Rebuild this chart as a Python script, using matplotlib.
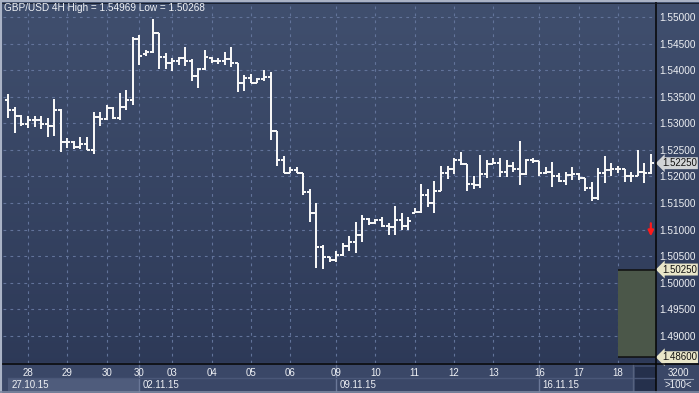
import matplotlib
matplotlib.use('Agg')
import matplotlib.pyplot as plt
import numpy as np
from matplotlib.collections import LineCollection
from matplotlib.patches import Rectangle
from matplotlib.lines import Line2D

plt.rcParams['lines.scale_dashes'] = False
FONT = ['Liberation Sans', 'DejaVu Sans']

# ---------------- data (GBP/USD 4H OHLC) ----------------
opens = [1.5344, 1.5326, 1.5313, 1.5299, 1.5306, 1.5306, 1.5298, 1.5295, 1.5326, 1.5264,
         1.5264, 1.5255, 1.5261, 1.5250, 1.5311, 1.5308, 1.5328, 1.5310, 1.5330, 1.5343,
         1.5458, 1.5430, 1.5435, 1.5469, 1.5425, 1.5413, 1.5417, 1.5423, 1.5417, 1.5389,
         1.5402, 1.5423, 1.5417, 1.5417, 1.5421, 1.5414, 1.5376, 1.5385, 1.5376, 1.5383,
         1.5388, 1.5286, 1.5231, 1.5207, 1.5212, 1.5207, 1.5170, 1.5131, 1.5068, 1.5049,
         1.5043, 1.5052, 1.5069, 1.5076, 1.5090, 1.5120, 1.5112, 1.5118, 1.5106, 1.5105,
         1.5118, 1.5106, 1.5132, 1.5134, 1.5165, 1.5151, 1.5173, 1.5207, 1.5214, 1.5231,
         1.5224, 1.5186, 1.5184, 1.5205, 1.5224, 1.5226, 1.5209, 1.5220, 1.5214, 1.5205,
         1.5231, 1.5230, 1.5207, 1.5209, 1.5200, 1.5192, 1.5203, 1.5205, 1.5197, 1.5178,
         1.5159, 1.5207, 1.5212, 1.5214, 1.5214, 1.5200, 1.5201, 1.5209, 1.5206]
highs = [1.5355, 1.5331, 1.5316, 1.5314, 1.5313, 1.5314, 1.5310, 1.5345, 1.5327, 1.5272,
         1.5266, 1.5274, 1.5275, 1.5322, 1.5322, 1.5335, 1.5330, 1.5357, 1.5363, 1.5463,
         1.5466, 1.5438, 1.54969, 1.5470, 1.5433, 1.5423, 1.5425, 1.5444, 1.5421, 1.5404,
         1.5438, 1.5425, 1.5423, 1.5434, 1.5444, 1.5414, 1.5391, 1.5393, 1.5385, 1.5400,
         1.5397, 1.5286, 1.5239, 1.5217, 1.5217, 1.5207, 1.5176, 1.5150, 1.5071, 1.5049,
         1.5059, 1.5075, 1.5088, 1.5115, 1.5128, 1.5122, 1.5120, 1.5123, 1.5113, 1.5145,
         1.5131, 1.5123, 1.5140, 1.5186, 1.5176, 1.5192, 1.5220, 1.5219, 1.5234, 1.5246,
         1.5224, 1.5201, 1.5241, 1.5231, 1.5234, 1.5235, 1.5231, 1.5228, 1.5266, 1.5232,
         1.5234, 1.5230, 1.5217, 1.5227, 1.5207, 1.5209, 1.5217, 1.5207, 1.5197, 1.5189,
         1.5216, 1.5239, 1.5226, 1.5219, 1.5214, 1.5209, 1.5249, 1.5225, 1.5242]
lows = [1.5310, 1.5281, 1.5295, 1.5291, 1.5294, 1.5289, 1.5275, 1.5276, 1.5247, 1.5253,
        1.5251, 1.5251, 1.5250, 1.5242, 1.5295, 1.5306, 1.5308, 1.5306, 1.5325, 1.5335,
        1.5410, 1.5427, 1.5433, 1.5402, 1.5402, 1.5398, 1.5410, 1.5408, 1.5380, 1.5367,
        1.5400, 1.5414, 1.5412, 1.5410, 1.5406, 1.5359, 1.5361, 1.5375, 1.5376, 1.5380,
        1.5269, 1.5220, 1.5207, 1.5206, 1.5206, 1.5165, 1.5115, 1.5028, 1.50268, 1.5039,
        1.5039, 1.5051, 1.5059, 1.5056, 1.5076, 1.5109, 1.5111, 1.5105, 1.5090, 1.5090,
        1.5100, 1.5100, 1.5131, 1.5131, 1.5142, 1.5132, 1.5173, 1.5195, 1.5205, 1.5222,
        1.5172, 1.5176, 1.5178, 1.5197, 1.5224, 1.5199, 1.5199, 1.5209, 1.5184, 1.5203,
        1.5225, 1.5200, 1.5205, 1.5180, 1.5189, 1.5184, 1.5194, 1.5194, 1.5173, 1.5153,
        1.5155, 1.5187, 1.5201, 1.5206, 1.5190, 1.5189, 1.5200, 1.5187, 1.5205]
closes = [1.5326, 1.5313, 1.5299, 1.5306, 1.5306, 1.5298, 1.5295, 1.5326, 1.5264, 1.5264,
          1.5255, 1.5261, 1.5250, 1.5311, 1.5308, 1.5328, 1.5310, 1.5330, 1.5343, 1.5458,
          1.5427, 1.5435, 1.5469, 1.5425, 1.5413, 1.5417, 1.5423, 1.5417, 1.5389, 1.5402,
          1.5425, 1.5417, 1.5417, 1.5421, 1.5414, 1.5376, 1.5385, 1.5376, 1.5383, 1.5388,
          1.5286, 1.5231, 1.5207, 1.5212, 1.5207, 1.5170, 1.5131, 1.5068, 1.5049, 1.5043,
          1.5052, 1.5069, 1.5076, 1.5090, 1.5120, 1.5112, 1.5118, 1.5106, 1.5105, 1.5118,
          1.5106, 1.5116, 1.5134, 1.5165, 1.5151, 1.5173, 1.5207, 1.5214, 1.5231, 1.5224,
          1.5186, 1.5184, 1.5205, 1.5224, 1.5226, 1.5209, 1.5220, 1.5214, 1.5205, 1.5231,
          1.5230, 1.5207, 1.5209, 1.5200, 1.5192, 1.5203, 1.5205, 1.5197, 1.5178, 1.5159,
          1.5207, 1.5212, 1.5214, 1.5214, 1.5200, 1.5201, 1.5209, 1.5206, 1.5225]

day_tick_idx = [3, 9, 15, 20, 25, 31, 37, 43, 50, 56, 62, 68, 74, 81, 87, 93]
day_labels = ['28', '29', '30', '30', '03', '04', '05', '06', '09', '10', '11', '12', '13', '16', '17', '18']
week_start_idx = [0, 20, 50, 81]
week_labels = ['27.10.15', '02.11.15', '09.11.15', '16.11.15']
price_ticks = [1.490, 1.495, 1.500, 1.505, 1.510, 1.515, 1.520, 1.525, 1.530, 1.535, 1.540, 1.545, 1.550]
last_price = 1.52250
zone_top = 1.50250
zone_bottom = 1.48600
title = 'GBP/USD 4H High = 1.54969 Low = 1.50268'

# ---------------- figure ----------------
W, H = 699, 393
fig = plt.figure(figsize=(W / 100, H / 100), dpi=100)

def fx(px):
    return px / W

def fy(py):
    return 1 - py / H

# background gradient
bg = fig.add_axes([0, 0, 1, 1], zorder=-10)
bg.set_axis_off()
top_c = np.array([0x40, 0x4f, 0x6e]) / 255
bot_c = np.array([0x2c, 0x38, 0x56]) / 255
t = np.linspace(0, 1, 256)[:, None]
grad = top_c[None, :] * (1 - t) + bot_c[None, :] * t
bg.imshow(grad[:, None, :].repeat(2, axis=1), aspect='auto', extent=[0, 1, 0, 1])
bg.set_xlim(0, 1)
bg.set_ylim(0, 1)
# bottom panel
bg.add_patch(Rectangle((0, 0), 1, fy(363), color='#3a4767', zorder=2))

# main axes
L, R, T, B = 3, 656, 3, 363
ax = fig.add_axes([fx(L), fy(B), fx(R - L), (B - T) / H])
ax.patch.set_alpha(0)
ax.set_xlim(-0.81, 98.79)
ax.set_ylim(1.48492, 1.552633)
for s in ax.spines.values():
    s.set_visible(False)

ax.set_xticks(day_tick_idx)
ax.tick_params(axis='x', length=0, labelbottom=False)
ax.yaxis.tick_right()
ax.set_yticks(price_ticks)
ax.set_yticklabels(['%.5f' % p for p in price_ticks])
ax.tick_params(axis='y', length=0, pad=2.5, labelsize=7.2, labelcolor='#eef0f4')
for lab in ax.get_yticklabels():
    lab.set_family(FONT)
ax.grid(True, color='#62739a', linestyle=(0, (2, 3)), linewidth=0.8)
ax.set_axisbelow(True)

# zone rectangle
ax.add_patch(Rectangle((day_tick_idx[-1], zone_bottom), 98.79 - day_tick_idx[-1],
                       zone_top - zone_bottom, facecolor='#4b5749', edgecolor='none', zorder=1))
ax.hlines([zone_top, zone_bottom], day_tick_idx[-1], 98.79, colors='#101010', linewidth=1.1, zorder=2)

# OHLC bars
segs = []
for i, (o, h, l, c) in enumerate(zip(opens, highs, lows, closes)):
    segs.append([(i, l), (i, h)])
    segs.append([(i - 0.46, o), (i, o)])
    segs.append([(i, c), (i + 0.46, c)])
ax.add_collection(LineCollection(segs, colors='#f6f6f6', linewidths=1.1, antialiased=False, zorder=3))

# red arrow
ax.annotate('', xy=(98, 1.50875), xytext=(98, 1.51120),
            arrowprops=dict(arrowstyle='-|>', color='#ff1a1a', lw=1.6, mutation_scale=8,
                            shrinkA=0, shrinkB=0), zorder=4)

# price tags
ytr = ax.get_yaxis_transform()
def tag(p, fc):
    ax.text(1 + 6 / 653, p, '%.5f' % p, transform=ytr, ha='left', va='center', fontsize=7,
            family=FONT, color='#111111', clip_on=False, zorder=6,
            bbox=dict(boxstyle='larrow,pad=0.1', fc=fc, ec='none'))
tag(last_price, '#d2d4d6')
tag(zone_top, '#e9e6c9')
tag(zone_bottom, '#e9e6c9')

# title
fig.text(fx(4), fy(8), title, ha='left', va='center', fontsize=7.2, family=FONT, color='#f0f2f6')

# bottom axis
bx = fig.add_axes([fx(L), 0, fx(R - L), fy(363)])
bx.set_xlim(ax.get_xlim())
bx.set_ylim(0, 30)
bx.set_axis_off()
bx.patch.set_alpha(0)
xb = lambda px: -0.81 + (px - L) / (R - L) * 99.6
# first (lighter) week box
bx.add_patch(Rectangle((week_start_idx[0], 2), week_start_idx[1] - week_start_idx[0], 13,
                       facecolor='#4f5c7c', edgecolor='none'))
for ws in week_start_idx[1:]:
    bx.plot([ws, ws], [2, 30], color='#6b7898', lw=1)
bx.plot([week_start_idx[0], 98.79], [15, 15], color='#4a5778', lw=1)
for idx, lab in zip(day_tick_idx, day_labels):
    bx.text(idx, 20, lab, ha='center', va='center', fontsize=7, family=FONT, color='#eef0f4')
for ws, lab in zip(week_start_idx, week_labels):
    bx.text(ws + 0.5, 8, lab, ha='left', va='center', fontsize=7, family=FONT, color='#eef0f4')
bx.add_patch(Rectangle((xb(635), 2.5), xb(655.5) - xb(635), 23.5, facecolor='#25304c', edgecolor='none'))
bx.plot([xb(633), xb(633)], [2, 30], color='#56627f', lw=1)

# corner texts
fig.text(fx(678), fy(372.5), '3200', ha='center', va='center', fontsize=7, family=FONT, color='#eef0f4')
fig.text(fx(678), fy(385.5), '>100<', ha='center', va='center', fontsize=7, family=FONT, color='#eef0f4')
fig.add_artist(Line2D([fx(664), fx(693)], [fy(379), fy(379)], color='#9aa3b8', lw=0.8))

# frame lines
fig.add_artist(Line2D([fx(R), fx(R)], [0, fy(2)], color='#050505', lw=1.1))
fig.add_artist(Line2D([0, 1], [fy(363.5), fy(363.5)], color='#050505', lw=1.1))
fig.add_artist(Line2D([0, 1], [fy(1), fy(1)], color='#aab3c6', lw=1.5))
fig.add_artist(Line2D([0, 1], [fy(2.6), fy(2.6)], color='#151a26', lw=0.6))
fig.add_artist(Line2D([fx(1), fx(1)], [0, 1], color='#aab3c6', lw=1.5))
fig.add_artist(Line2D([0, 1], [fy(392), fy(392)], color='#7f8aa3', lw=1.2))

fig.savefig('out.png', dpi=100)
